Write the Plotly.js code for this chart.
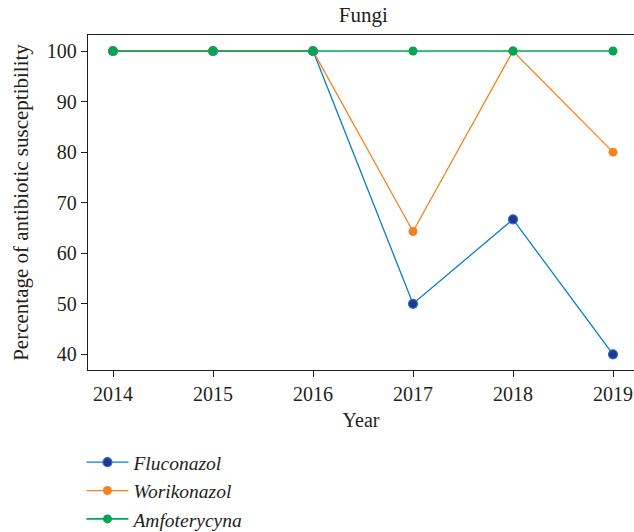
<!DOCTYPE html>
<html>
<head>
<meta charset="utf-8">
<script src="https://cdn.plot.ly/plotly-3.0.1.min.js"></script>
<style>html,body{margin:0;padding:0;background:#fff;}#chart{width:634px;height:532px;}</style>
</head>
<body>
<div id="chart"></div>
<script>
const years = [2014, 2015, 2016, 2017, 2018, 2019];
const fluconazol = [100, 100, 100, 50, 66.7, 40];
const worikonazol = [100, 100, 100, 64.3, 100, 80];
const amfoterycyna = [100, 100, 100, 100, 100, 100];
const seriesNames = ['Fluconazol', 'Worikonazol', 'Amfoterycyna'];
const yTicks = [40, 50, 60, 70, 80, 90, 100];

const fontFam = '"Liberation Serif", "DejaVu Serif", serif';
const traces = [
  {x: years, y: fluconazol, name: seriesNames[0], mode: 'lines+markers',
   line: {color: '#0a7fc4', width: 1.3},
   marker: {color: '#2e3192', size: 9, line: {color: '#0a7fc4', width: 1.2}}},
  {x: years, y: worikonazol, name: seriesNames[1], mode: 'lines+markers',
   line: {color: '#f58220', width: 1.3},
   marker: {color: '#f58220', size: 9}},
  {x: years, y: amfoterycyna, name: seriesNames[2], mode: 'lines+markers',
   line: {color: '#00a651', width: 1.6},
   marker: {color: '#00a651', size: 9}}
];
const layout = {
  width: 634, height: 532,
  margin: {l: 88, r: 0, t: 35, b: 162, autoexpand: false},
  paper_bgcolor: '#fff', plot_bgcolor: '#fff',
  font: {family: fontFam, size: 20, color: '#231f20'},
  title: {text: 'Fungi', x: 0.573, xanchor: 'center', y: 0.972, yanchor: 'middle', font: {size: 21, family: fontFam}},
  showlegend: true,
  legend: {x: -0.012, y: -0.218, xanchor: 'left', yanchor: 'top', font: {size: 19.5, family: fontFam, style: 'italic'},
           tracegroupgap: 0, itemwidth: 42, bgcolor: 'rgba(0,0,0,0)'},
  xaxis: {range: [2013.75, 2019.21], tickvals: years, ticktext: years.map(String),
          ticks: 'outside', ticklen: 6, tickwidth: 1, tickcolor: '#231f20',
          showline: true, linecolor: '#231f20', linewidth: 1.2, mirror: true,
          showgrid: false, zeroline: false,
          title: {text: 'Year', standoff: 8, font: {size: 20}}},
  yaxis: {range: [36.9, 103.17], tickvals: yTicks,
          ticks: 'outside', ticklen: 6, tickwidth: 1, tickcolor: '#231f20',
          showline: true, linecolor: '#231f20', linewidth: 1.2, mirror: true,
          showgrid: false, zeroline: false,
          title: {text: 'Percentage of antibiotic susceptibility', standoff: 12, font: {size: 21}}}
};
Plotly.newPlot('chart', traces, layout, {displayModeBar: false, staticPlot: true});
</script>
</body>
</html>
